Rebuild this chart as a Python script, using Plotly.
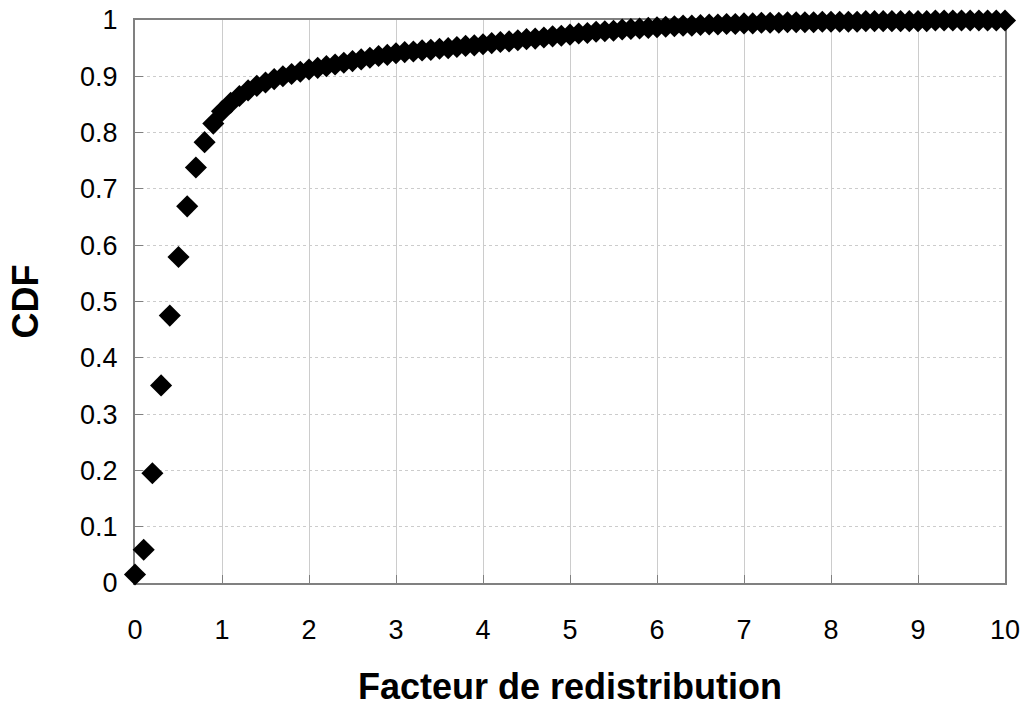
import plotly.graph_objects as go

facteur = [
    0.0, 0.1, 0.2, 0.3, 0.4, 0.5, 0.6, 0.7, 0.8, 0.9,
    1.0, 1.1, 1.2, 1.3, 1.4, 1.5, 1.6, 1.7, 1.8, 1.9,
    2.0, 2.1, 2.2, 2.3, 2.4, 2.5, 2.6, 2.7, 2.8, 2.9,
    3.0, 3.1, 3.2, 3.3, 3.4, 3.5, 3.6, 3.7, 3.8, 3.9,
    4.0, 4.1, 4.2, 4.3, 4.4, 4.5, 4.6, 4.7, 4.8, 4.9,
    5.0, 5.1, 5.2, 5.3, 5.4, 5.5, 5.6, 5.7, 5.8, 5.9,
    6.0, 6.1, 6.2, 6.3, 6.4, 6.5, 6.6, 6.7, 6.8, 6.9,
    7.0, 7.1, 7.2, 7.3, 7.4, 7.5, 7.6, 7.7, 7.8, 7.9,
    8.0, 8.1, 8.2, 8.3, 8.4, 8.5, 8.6, 8.7, 8.8, 8.9,
    9.0, 9.1, 9.2, 9.3, 9.4, 9.5, 9.6, 9.7, 9.8, 9.9,
    10.0,
]

cdf = [
    0.015, 0.059, 0.195, 0.351, 0.475, 0.579, 0.669, 0.738, 0.783, 0.816,
    0.838, 0.853, 0.865, 0.875, 0.883, 0.889, 0.895, 0.900, 0.904, 0.908,
    0.912, 0.915, 0.918, 0.921, 0.924, 0.927, 0.930, 0.933, 0.936, 0.938,
    0.941, 0.943, 0.944, 0.946, 0.947, 0.949, 0.950, 0.952, 0.954, 0.955,
    0.957, 0.959, 0.961, 0.962, 0.964, 0.966, 0.967, 0.969, 0.971, 0.972,
    0.974, 0.976, 0.977, 0.979, 0.980, 0.981, 0.983, 0.984, 0.985, 0.986,
    0.987, 0.988, 0.989, 0.990, 0.990, 0.991, 0.992, 0.992, 0.993, 0.993,
    0.994, 0.994, 0.995, 0.995, 0.995, 0.996, 0.996, 0.996, 0.996, 0.997,
    0.997, 0.997, 0.997, 0.997, 0.998, 0.998, 0.998, 0.998, 0.998, 0.998,
    0.998, 0.998, 0.999, 0.999, 0.999, 0.999, 0.999, 0.999, 0.999, 0.999,
    0.999,
]

x_title = "Facteur de redistribution"
y_title = "CDF"

FONT = "Liberation Sans, Arial, sans-serif"

fig = go.Figure()
fig.add_trace(go.Scatter(
    x=facteur, y=cdf, mode="markers",
    marker=dict(symbol="diamond", size=17, color="black", line=dict(width=0)),
    cliponaxis=False, showlegend=False, hoverinfo="skip",
))

axis_common = dict(
    showline=True, linecolor="#808080", linewidth=2, mirror=True,
    showgrid=True, gridcolor="#cccccc", gridwidth=1,
    ticks="inside", ticklen=8, tickcolor="#808080", tickwidth=1,
    zeroline=False, layer="below traces",
    tickfont=dict(family=FONT, size=27, color="black"),
)

fig.update_xaxes(
    range=[0, 10], dtick=1, tick0=0,
    ticklabelstandoff=22,
    **axis_common,
)
fig.update_yaxes(
    range=[0, 1], dtick=0.1, tick0=0, griddash="dot",
    ticklabelstandoff=10,
    title=dict(text=y_title, font=dict(family=FONT, size=36, color="black", weight="bold"), standoff=30),
    **axis_common,
)

# x-axis title placed as a paper annotation below the tick labels
fig.add_annotation(
    text=x_title, xref="paper", yref="paper", x=0.5, y=-0.183,
    xanchor="center", yanchor="middle", showarrow=False,
    font=dict(family=FONT, size=36, color="black", weight="bold"),
)

fig.update_layout(
    width=1025, height=701,
    margin=dict(l=135, r=20, t=20, b=118, autoexpand=False),
    paper_bgcolor="white", plot_bgcolor="white",
    font=dict(family=FONT, color="black"),
)

fig.write_html(
    "out.html",
    config={"displayModeBar": False, "staticPlot": True},
    post_script="document.body.style.margin='0';document.body.style.overflow='hidden';",
)
